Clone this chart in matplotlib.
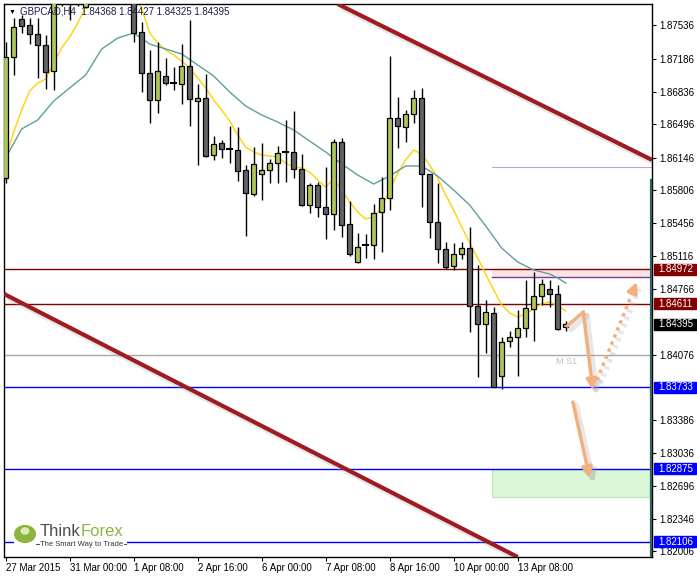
"""
GBPCAD H4 蜡烛图 (MT4 风格截图复刻)
"""

import numpy as np
import matplotlib
matplotlib.use('Agg')
import matplotlib.pyplot as plt
import matplotlib.patheffects as pe
from matplotlib.patches import Rectangle, Circle

plt.rcParams['font.family'] = ['Liberation Sans', 'DejaVu Sans']

# K线数据 (开, 高, 低, 收)
opens = [1.85932, 1.87205, 1.87604, 1.87541, 1.87447, 1.87331, 1.87057, 1.87900, 1.88100, 1.87950,
         1.87730, 1.88250, 1.88400, 1.88300, 1.88150, 1.88050, 1.88000, 1.87468, 1.87036, 1.86753,
         1.87005, 1.86931, 1.86921, 1.87110, 1.86742, 1.86774, 1.86174, 1.86300, 1.86237, 1.86227,
         1.86017, 1.85764, 1.85974, 1.86017, 1.86090, 1.86206, 1.86206, 1.86027, 1.85648, 1.85859,
         1.85627, 1.85554, 1.86311, 1.85449, 1.85049, 1.85228, 1.85228, 1.85575, 1.85722, 1.86563,
         1.86469, 1.86605, 1.86774, 1.85974, 1.85470, 1.85186, 1.85007, 1.85133, 1.85196, 1.84587,
         1.84397, 1.84513, 1.83850, 1.84218, 1.84260, 1.84355, 1.84555, 1.84692, 1.84765, 1.84713,
         1.84368]
highs = [1.87362, 1.87615, 1.87646, 1.87615, 1.87615, 1.87436, 1.88000, 1.88150, 1.88300, 1.88150,
         1.88350, 1.88500, 1.88550, 1.88450, 1.88300, 1.88150, 1.88100, 1.87573, 1.87278, 1.87362,
         1.87194, 1.87100, 1.87341, 1.87594, 1.86921, 1.87026, 1.86374, 1.86332, 1.86479, 1.86469,
         1.86069, 1.86258, 1.86300, 1.86132, 1.86269, 1.86542, 1.86637, 1.86185, 1.85880, 1.85890,
         1.86048, 1.86342, 1.86353, 1.85691, 1.85354, 1.85344, 1.85659, 1.85943, 1.87215, 1.86784,
         1.86647, 1.86858, 1.86879, 1.85974, 1.85880, 1.85259, 1.85249, 1.85259, 1.85417, 1.85018,
         1.84650, 1.84576, 1.84260, 1.84324, 1.84544, 1.84860, 1.84944, 1.84870, 1.84860, 1.84807,
         1.84427]
lows = [1.85880, 1.87015, 1.87457, 1.87341, 1.86984, 1.86868, 1.86858, 1.87741, 1.87594, 1.87741,
        1.87720, 1.88150, 1.88200, 1.88100, 1.88000, 1.87900, 1.87362, 1.86837, 1.86511, 1.86616,
        1.86910, 1.86858, 1.86711, 1.86479, 1.86069, 1.86153, 1.86122, 1.86143, 1.86090, 1.85901,
        1.85323, 1.85743, 1.85701, 1.85880, 1.85880, 1.85890, 1.85932, 1.85640, 1.85564, 1.85522,
        1.85291, 1.85386, 1.85312, 1.85112, 1.85040, 1.85091, 1.85081, 1.85154, 1.85596, 1.86248,
        1.86311, 1.86511, 1.85627, 1.85302, 1.85039, 1.84976, 1.84965, 1.85081, 1.84313, 1.83840,
        1.84092, 1.83730, 1.83714, 1.84155, 1.83850, 1.84260, 1.84218, 1.84597, 1.84576, 1.84334,
        1.84325]
closes = [1.87205, 1.87520, 1.87531, 1.87447, 1.87331, 1.87047, 1.87900, 1.88100, 1.87950, 1.87760,
          1.88250, 1.88400, 1.88300, 1.88150, 1.88050, 1.88000, 1.87457, 1.87036, 1.86753, 1.87057,
          1.86931, 1.86931, 1.87110, 1.86763, 1.86774, 1.86164, 1.86290, 1.86237, 1.86237, 1.86006,
          1.85775, 1.86080, 1.86017, 1.86090, 1.86195, 1.86206, 1.86027, 1.85648, 1.85859, 1.85627,
          1.85554, 1.86311, 1.85438, 1.85133, 1.85207, 1.85228, 1.85564, 1.85722, 1.86563, 1.86479,
          1.86605, 1.86774, 1.85974, 1.85470, 1.85186, 1.84997, 1.85133, 1.85196, 1.84587, 1.84397,
          1.84523, 1.83735, 1.84208, 1.84260, 1.84355, 1.84566, 1.84692, 1.84818, 1.84713, 1.84345,
          1.84395]

# 均线
fast_ma = [1.86143, 1.86416, 1.86647, 1.86847, 1.86931, 1.86973, 1.87142, 1.87299, 1.87415, 1.87562,
           1.87730, 1.87909, 1.88014, 1.88067, 1.88014, 1.87857, 1.87836, 1.87720, 1.87457, 1.87352,
           1.87278, 1.87226, 1.87163, 1.87089, 1.86984, 1.86879, 1.86753, 1.86647, 1.86532, 1.86385,
           1.86258, 1.86206, 1.86174, 1.86164, 1.86153, 1.86090, 1.86048, 1.86037, 1.85995, 1.85911,
           1.85838, 1.85922, 1.85806, 1.85680, 1.85575, 1.85501, 1.85522, 1.85617, 1.85806, 1.85985,
           1.86122, 1.86227, 1.86185, 1.86069, 1.85932, 1.85754, 1.85596, 1.85417, 1.85249, 1.85091,
           1.84923, 1.84755, 1.84597, 1.84513, 1.84471, 1.84502, 1.84555, 1.84608, 1.84629, 1.84587,
           1.84534]
slow_ma_idx = [0, 2, 4, 6, 8, 10, 12, 14, 16, 18, 20, 22, 24, 26, 28, 30, 32, 34, 36, 38, 40,
               42, 44, 46, 48, 50, 52, 54, 56, 58, 60, 62, 64, 66, 68, 69, 70]
slow_ma = [1.86143, 1.86448, 1.86542, 1.86742, 1.86879, 1.87015, 1.87289, 1.87404, 1.87457, 1.87341,
           1.87289, 1.87236, 1.87121, 1.87005, 1.86837, 1.86689, 1.86595, 1.86521, 1.86437, 1.86321,
           1.86206, 1.86080, 1.85964, 1.85869, 1.85953, 1.86059, 1.86059, 1.85953, 1.85806, 1.85648,
           1.85428, 1.85196, 1.85049, 1.84965, 1.84923, 1.84881, 1.84828]

# 时间轴标签
date_idx = [0, 8, 16, 24, 32, 40, 48, 56, 64]
date_labels = ['27 Mar 2015', '31 Mar 00:00', '1 Apr 08:00', '2 Apr 16:00', '6 Apr 00:00',
               '7 Apr 08:00', '8 Apr 16:00', '10 Apr 00:00', '13 Apr 08:00']

# 价格轴刻度
price_ticks = [1.87536, 1.87186, 1.86836, 1.86496, 1.86146, 1.85806, 1.85456, 1.85116, 1.84766,
               1.84076, 1.83386, 1.83036, 1.82696, 1.82346, 1.82006]

# 水平线 / 价格标签
level_prices = [1.84972, 1.84611, 1.83733, 1.82875, 1.82106]
level_colors = ['#800000', '#800000', '#0000FF', '#0000FF', '#0000FF']
bid_price = 1.84395
pivot_s1 = 1.84076

# 区域
zone_start = 60.8
pink_zone = [1.84888, 1.84972]
green_zone = [1.82578, 1.82875]
upper_guide = 1.86048

# 通道线
upper_channel = ([41.5, 80.8], [1.87762, 1.86122])
lower_channel = ([-0.2, 64.0], [1.84713, 1.81947])

# 箭头
arrow_a = ([70.2, 72.2, 73.4], [1.84376, 1.84523, 1.83703])
arrow_b = ([73.9, 78.9], [1.83808, 1.84839])
arrow_c = ([70.9, 73.0], [1.83577, 1.82778])

W, H = 697, 577
Y_TOP, Y_BOT = 1.87762, 1.81947
X_LEFT, X_RIGHT = -0.21, 80.79

fig = plt.figure(figsize=(W / 100, H / 100), dpi=100)
ax = fig.add_axes([4 / W, (H - 557) / H, 648 / W, 553 / H])
ax.set_xlim(X_LEFT, X_RIGHT)
ax.set_ylim(Y_BOT, Y_TOP)

price_per_px = (Y_TOP - Y_BOT) / 553

# 区域和水平线
ax.add_patch(Rectangle((zone_start, pink_zone[0]), X_RIGHT - zone_start, pink_zone[1] - pink_zone[0],
                       facecolor='#FCE4E4', edgecolor='none', zorder=0))
ax.add_patch(Rectangle((zone_start, green_zone[0]), X_RIGHT - zone_start, green_zone[1] - green_zone[0],
                       facecolor='#D9F7D6', edgecolor='#B8E6B4', lw=0.8, zorder=0))
ax.plot([zone_start, X_RIGHT], [pink_zone[0]] * 2, color='#7A3E8E', lw=1, zorder=1)
ax.plot([zone_start, X_RIGHT], [upper_guide] * 2, color='#B8A8D8', lw=0.8, zorder=1)
ax.axhline(pivot_s1, color='#A8A8A8', lw=1, zorder=1)
ax.text(68.8, pivot_s1 - 7 * price_per_px, 'M S1', color='#C0C0C0', fontsize=6.5,
        va='center', ha='left')
for p, c in zip(level_prices, level_colors):
    ax.axhline(p, color=c, lw=1, zorder=1)

# 均线
x_all = np.arange(len(opens))
ax.plot(x_all, fast_ma, color='#FFD200', lw=1, zorder=2)
ax.plot(slow_ma_idx, slow_ma, color='#5F9EA0', lw=1, zorder=2)

# K线
for i in range(len(opens)):
    o, h, l, c = opens[i], highs[i], lows[i], closes[i]
    ax.plot([i, i], [l, h], color='black', lw=1, zorder=3, solid_capstyle='butt')
    if c > o:
        ax.add_patch(Rectangle((i - 0.3, o), 0.6, c - o, facecolor='#ADC75B',
                               edgecolor='black', lw=0.9, zorder=4))
    elif c < o:
        ax.add_patch(Rectangle((i - 0.3, c), 0.6, o - c, facecolor='#646464',
                               edgecolor='black', lw=0.9, zorder=4))
    else:
        ax.plot([i - 0.3, i + 0.3], [o, o], color='black', lw=1.5, zorder=4)

# 通道线 (带阴影)
shadow = [pe.SimpleLineShadow(offset=(2.5, -2.5), shadow_color='#A0A0A0', alpha=0.25, linewidth=4),
          pe.Normal()]
for xs, ys in (upper_channel, lower_channel):
    ax.plot(xs, ys, color='#9E1C20', lw=3, zorder=5, path_effects=shadow, solid_capstyle='butt')

# 右侧竖线
ax.plot([X_RIGHT - 0.1] * 2, [1.85911, Y_BOT], color='#2F6464', lw=1.6, zorder=5)

# 箭头
arrow_col = '#F2B07E'
ashadow = [pe.SimpleLineShadow(offset=(2.5, -2.5), shadow_color='#A0A0A0', alpha=0.25, linewidth=4),
           pe.Normal()]
ax.plot(arrow_a[0][:2], arrow_a[1][:2], color=arrow_col, lw=2.5, zorder=6,
        path_effects=ashadow, solid_capstyle='round')
ax.annotate('', xy=(arrow_a[0][2], arrow_a[1][2]), xytext=(arrow_a[0][1], arrow_a[1][1]),
            arrowprops=dict(arrowstyle='-|>,head_length=0.6,head_width=0.3', color=arrow_col,
                            lw=2.5, shrinkA=0, shrinkB=0, path_effects=ashadow), zorder=6)
ax.annotate('', xy=(arrow_c[0][1], arrow_c[1][1]), xytext=(arrow_c[0][0], arrow_c[1][0]),
            arrowprops=dict(arrowstyle='-|>,head_length=0.6,head_width=0.3', color=arrow_col,
                            lw=2.5, shrinkA=0, shrinkB=0, path_effects=ashadow), zorder=6)
bx, by = arrow_b
ax.plot(bx, by, color=arrow_col, lw=2.5, ls=(0, (1, 1.2)), zorder=6, path_effects=ashadow)
ax.annotate('', xy=(bx[1], by[1]), xytext=(bx[1] - 0.5, by[1] - 0.00103),
            arrowprops=dict(arrowstyle='-|>,head_length=0.6,head_width=0.3', color=arrow_col,
                            lw=2.5, shrinkA=0, shrinkB=0), zorder=6)

# 坐标轴
for s in ax.spines.values():
    s.set_color('black')
    s.set_linewidth(1)
ax.yaxis.tick_right()
ax.set_yticks(price_ticks)
ax.set_yticklabels([f'{p:.5f}' for p in price_ticks])
ax.tick_params(axis='y', direction='out', length=3, pad=2, labelsize=7, colors='black')
ax.set_xticks(date_idx)
ax.set_xticklabels(date_labels, ha='left')
ax.tick_params(axis='x', direction='out', length=3, pad=1.5, labelsize=7, colors='black')

# 右侧价格标签
ytrans = ax.get_yaxis_transform()
label_prices = level_prices + [bid_price]
label_colors = level_colors + ['#000000']
for p, c in zip(label_prices, label_colors):
    ax.add_patch(Rectangle((1 + 2 / 648, p - 5.5 * price_per_px), 42 / 648, 11 * price_per_px,
                           transform=ytrans, facecolor=c, edgecolor=c, clip_on=False, zorder=10))
    ax.text(1 + 6 / 648, p, f'{p:.5f}', transform=ytrans, color='white', fontsize=7,
            va='center', ha='left', zorder=11, clip_on=False)

# 标题
fig.text(12 / W, 1 - 12 / H, '▼', fontsize=5, color='black', va='center', ha='center')
fig.text(20 / W, 1 - 12 / H, 'GBPCAD,H4  1.84368 1.84427 1.84325 1.84395', fontsize=7,
         color='#1A1A4A', va='center', ha='left')

# ThinkForex 标志
fig.add_artist(Rectangle((14 / W, 1 - 548 / H), 113 / W, 7 / H, facecolor='white',
                         edgecolor='none', transform=fig.transFigure))
fig.add_artist(plt.Line2D([36 / W, 126 / W], [1 - 544 / H] * 2, color='#555555', lw=0.8,
                          transform=fig.transFigure))
fig.add_artist(Circle((25 / W, 1 - 534 / H), 11 / W, facecolor='#8DB53E', edgecolor='none',
                      transform=fig.transFigure))
fig.add_artist(Circle((25 / W, 1 - 531 / H), 4.5 / W, facecolor='#DCEBB0', edgecolor='none',
                      transform=fig.transFigure))
fig.text(40 / W, 1 - 532 / H, 'Think', fontsize=12, color='#4D4D4D', va='center', ha='left')
fig.text(81 / W, 1 - 532 / H, 'Forex', fontsize=12, color='#8DB53E', va='center', ha='left')
fig.text(82 / W, 1 - 544 / H, 'The Smart Way to Trade', fontsize=5.5, color='#333333',
         va='center', ha='center',
         bbox=dict(boxstyle='square,pad=0.1', facecolor='white', edgecolor='none'))

fig.savefig('out.png', dpi=100, facecolor='white')
